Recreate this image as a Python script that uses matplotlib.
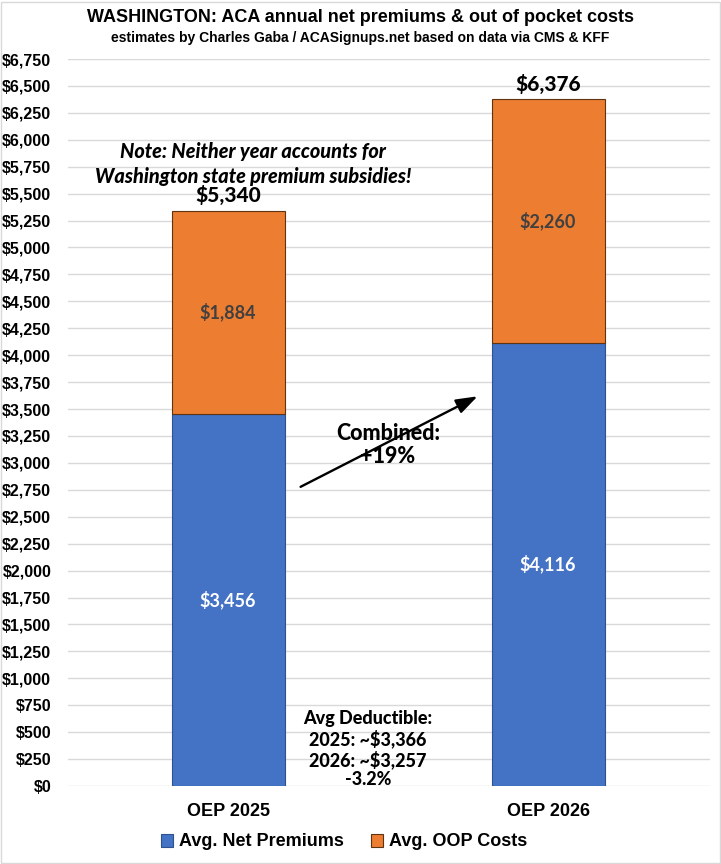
import matplotlib
matplotlib.use("Agg")
import matplotlib.pyplot as plt
from matplotlib import font_manager
from matplotlib.patches import Rectangle

# ==========================================
# data
# ==========================================
categories = ["OEP 2025", "OEP 2026"]
net_premiums = [3456, 4116]
oop_costs = [1884, 2260]
totals = [5340, 6376]
series_names = ["Avg. Net Premiums", "Avg. OOP Costs"]

title = "WASHINGTON: ACA annual net premiums & out of pocket costs"
subtitle = "estimates by Charles Gaba / ACASignups.net based on data via CMS & KFF"
note_text = "Note: Neither year accounts for\nWashington state premium subsidies!"
combined_text = "Combined:\n+19%"
deduct_text = "Avg Deductible:\n2025: ~$3,366\n2026: ~$3,257\n-3.2%"

y_ticks = list(range(0, 6751, 250))

# ==========================================
# fonts
# ==========================================
names = {f.name for f in font_manager.fontManager.ttflist}
narrow = "Liberation Sans Narrow" if "Liberation Sans Narrow" in names else "Liberation Sans"
arial = "Liberation Sans"
calibri = "Lato" if "Lato" in names else "DejaVu Sans"

BLUE = "#4472C4"
ORANGE = "#ED7D31"

fig = plt.figure(figsize=(7.21, 8.64), dpi=100)
ax = fig.add_axes([68 / 721, 1 - 786 / 864, (710 - 68) / 721, (786 - 59) / 864])

x = list(range(len(categories)))
w = 0.353
ax.bar(x, net_premiums, width=w, color=BLUE, edgecolor="#2F528F", linewidth=0.8,
       label=series_names[0], zorder=3)
ax.bar(x, oop_costs, width=w, bottom=net_premiums, color=ORANGE, edgecolor="#5E3412",
       linewidth=0.8, label=series_names[1], zorder=3)

for i in x:
    ax.text(i, net_premiums[i] / 2, f"${net_premiums[i]:,}", ha="center", va="center",
            color="white", fontsize=13, fontweight="bold", family=calibri, zorder=4)
    ax.text(i, net_premiums[i] + oop_costs[i] / 2, f"${oop_costs[i]:,}", ha="center",
            va="center", color="#404040", fontsize=13, fontweight="bold", family=calibri, zorder=4)
    ax.text(i, totals[i] + 50, f"${totals[i]:,}", ha="center", va="bottom",
            color="black", fontsize=15, fontweight=900, family=calibri, zorder=4)

ax.set_xlim(-0.5, 1.506)
ax.set_ylim(0, 6750)
ax.set_yticks(y_ticks)
ax.set_yticklabels([f"${v:,}" for v in y_ticks])
ax.set_xticks(x)
ax.set_xticklabels(categories)
ax.tick_params(axis="both", length=0)
ax.tick_params(axis="y", pad=12)
ax.tick_params(axis="x", pad=12)
for lab in ax.get_yticklabels():
    lab.set_fontfamily(arial); lab.set_fontweight("bold"); lab.set_fontsize(11.5)
for lab in ax.get_xticklabels():
    lab.set_fontfamily(arial); lab.set_fontweight("bold"); lab.set_fontsize(13)
ax.grid(axis="y", color="#D9D9D9", linewidth=1, zorder=0)
for s in ["top", "right", "left", "bottom"]:
    ax.spines[s].set_visible(False)

# annotations
ax.text(0.078, 5774, note_text, ha="center", va="center", fontsize=14.3,
        fontweight=900, style="italic", family=calibri, linespacing=1.35, zorder=5)
ax.annotate("", xy=(0.7875, 3630), xytext=(0.219, 2766),
            arrowprops=dict(arrowstyle="-|>,head_length=1.3,head_width=0.45",
                            color="black", lw=1.7), zorder=5)
ax.text(0.5, 3166, combined_text, ha="center", va="center", fontsize=15.5,
        fontweight=900, family=calibri, linespacing=1.15, zorder=6)
ax.text(0.4375, 343, deduct_text, ha="center", va="center", fontsize=13,
        fontweight=900, family=calibri, linespacing=1.15, zorder=6)

fig.text(0.5, 1 - 18 / 864, title, ha="center", va="center", fontsize=13,
         fontweight="bold", family=narrow)
fig.text(0.5, 1 - 38 / 864, subtitle, ha="center", va="center", fontsize=10,
         fontweight="bold", family=narrow)

leg = fig.legend(loc="center", bbox_to_anchor=(0.477, 1 - 842 / 864), ncol=2, frameon=False,
                 prop={"family": arial, "weight": "bold", "size": 13}, handlelength=0.7,
                 handleheight=0.7, handletextpad=0.3, columnspacing=1.5)

fig.add_artist(Rectangle((0.001, 0.001), 0.997, 0.997, transform=fig.transFigure,
                         fill=False, edgecolor="#D9D9D9", linewidth=1))

fig.savefig("out.png", dpi=100)
